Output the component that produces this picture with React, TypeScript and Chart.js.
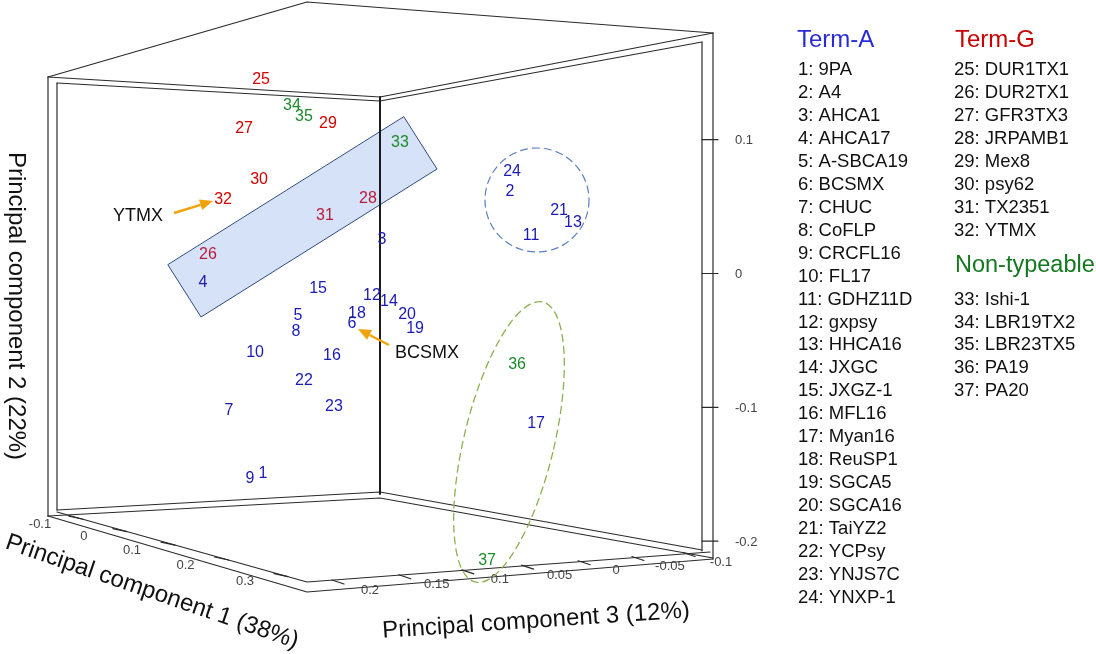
import React, { useEffect, useRef } from 'react';
import { Chart, registerables } from 'chart.js';

Chart.register(...registerables);

// ---------- data (projected PCA coordinates: x = horizontal projection, y = PC2) ----------
const termAIds = [1, 2, 3, 4, 5, 6, 7, 8, 9, 10, 11, 12, 13, 14, 15, 16, 17, 18, 19, 20, 21, 22, 23, 24];
const termAX = [-0.0874, 0.0972, 0.0015, -0.1323, -0.0613, -0.0209, -0.1129, -0.0628, -0.0972, -0.0934, 0.1129, -0.006, 0.1442, 0.0067, -0.0463, -0.0359, 0.1166, -0.0172, 0.0262, 0.0202, 0.1338, -0.0568, -0.0344, 0.0987];
const termAY = [-0.1499, 0.0609, 0.025, -0.0071, -0.0318, -0.0377, -0.1028, -0.0437, -0.1536, -0.0594, 0.028, -0.0168, 0.0377, -0.0213, -0.0116, -0.0617, -0.1125, -0.0303, -0.0415, -0.031, 0.0467, -0.0803, -0.0998, 0.0759];

const termGIds = [25, 26, 27, 28, 29, 30, 31, 32];
const termGX = [-0.0889, -0.1286, -0.1016, -0.009, -0.0389, -0.0904, -0.0411, -0.1173];
const termGY = [0.1446, 0.0138, 0.108, 0.0557, 0.1117, 0.0699, 0.043, 0.0549];

const nonTypeIds = [33, 34, 35, 36, 37];
const nonTypeX = [0.0149, -0.0658, -0.0568, 0.1024, 0.08];
const nonTypeY = [0.0975, 0.1252, 0.117, -0.0684, -0.2149];

const termANames = ['9PA', 'A4', 'AHCA1', 'AHCA17', 'A-SBCA19', 'BCSMX', 'CHUC', 'CoFLP', 'CRCFL16', 'FL17', 'GDHZ11D', 'gxpsy', 'HHCA16', 'JXGC', 'JXGZ-1', 'MFL16', 'Myan16', 'ReuSP1', 'SGCA5', 'SGCA16', 'TaiYZ2', 'YCPsy', 'YNJS7C', 'YNXP-1'];
const termGNames = ['DUR1TX1', 'DUR2TX1', 'GFR3TX3', 'JRPAMB1', 'Mex8', 'psy62', 'TX2351', 'YTMX'];
const nonTypeNames = ['Ishi-1', 'LBR19TX2', 'LBR23TX5', 'PA19', 'PA20'];

const pc1Ticks = [-0.1, 0, 0.1, 0.2, 0.3];
const pc1TickLabels = ['-0.1', '0', '0.1', '0.2', '0.3'];
const pc2Ticks = [0.1, 0, -0.1, -0.2];
const pc2TickLabels = ['0.1', '0', '-0.1', '-0.2'];
const pc3Ticks = [0.2, 0.15, 0.1, 0.05, 0, -0.05, -0.1];
const pc3TickLabels = ['0.2', '0.15', '0.1', '0.05', '0', '-0.05', '-0.1'];

const FONT = '"Liberation Sans", Arial, Helvetica, sans-serif';
const BLUE = '#1a1ab4';
const RED = '#d40000';
const GREEN = '#1c8c2a';

const HIGHLIGHT = [[168, 265], [201, 317], [437, 169], [404, 117]];

function polyline(ctx: CanvasRenderingContext2D, pts: number[][]) {
  ctx.beginPath();
  ctx.moveTo(pts[0][0], pts[0][1]);
  for (let i = 1; i < pts.length; i++) ctx.lineTo(pts[i][0], pts[i][1]);
  ctx.stroke();
}

function inside(pt: number[], poly: number[][]) {
  let c = false;
  for (let i = 0, j = poly.length - 1; i < poly.length; j = i++) {
    const [xi, yi] = poly[i];
    const [xj, yj] = poly[j];
    if ((yi > pt[1]) !== (yj > pt[1]) && pt[0] < ((xj - xi) * (pt[1] - yi)) / (yj - yi) + xi) c = !c;
  }
  return c;
}

function arrow(ctx: CanvasRenderingContext2D, x1: number, y1: number, x2: number, y2: number, color: string) {
  const a = Math.atan2(y2 - y1, x2 - x1);
  const hl = 13, hw = 5.5;
  const bx = x2 - hl * Math.cos(a), by = y2 - hl * Math.sin(a);
  ctx.strokeStyle = color;
  ctx.lineWidth = 2.4;
  ctx.setLineDash([]);
  ctx.beginPath();
  ctx.moveTo(x1, y1);
  ctx.lineTo(bx, by);
  ctx.stroke();
  ctx.fillStyle = color;
  ctx.beginPath();
  ctx.moveTo(x2, y2);
  ctx.lineTo(bx + hw * Math.sin(a), by - hw * Math.cos(a));
  ctx.lineTo(bx - hw * Math.sin(a), by + hw * Math.cos(a));
  ctx.closePath();
  ctx.fill();
}

function rotText(ctx: CanvasRenderingContext2D, text: string, x: number, y: number, deg: number) {
  ctx.save();
  ctx.translate(x, y);
  ctx.rotate((deg * Math.PI) / 180);
  ctx.textAlign = 'center';
  ctx.textBaseline = 'middle';
  ctx.fillText(text, 0, 0);
  ctx.restore();
}

const pc1Pos = (v: number) => {
  const u = (v + 0.1) / 0.4;
  const f = u / (1.227 - 0.227 * u);
  const x = 83 + 205 * f;
  return [x, 512 + 0.28 * (x - 57)];
};
const pc3Pos = (v: number) => {
  const u = (0.2 - v) / 0.3;
  const f = (1.174 * u) / (1 + 0.174 * u);
  const x = 332 + 351 * f;
  return [x, 582 - 0.0785 * (x - 307)];
};

const scenePlugin = {
  id: 'scene3d',
  beforeDatasetsDraw(chart: any) {
    const ctx: CanvasRenderingContext2D = chart.ctx;
    const ys = chart.scales.y;
    ctx.save();
    ctx.lineCap = 'round';
    ctx.lineJoin = 'round';

    // highlight band
    ctx.fillStyle = '#d6e2f7';
    ctx.strokeStyle = '#2c4a80';
    ctx.lineWidth = 1;
    ctx.beginPath();
    HIGHLIGHT.forEach((p, i) => (i ? ctx.lineTo(p[0], p[1]) : ctx.moveTo(p[0], p[1])));
    ctx.closePath();
    ctx.fill();
    ctx.stroke();

    // box frame
    ctx.strokeStyle = '#2a2a2a';
    ctx.lineWidth = 1.2;
    const segs = [
      [[48, 77], [307, 2], [713, 33]],
      [[48, 77], [48, 516]],
      [[713, 33], [713, 559]],
      [[48, 516], [307, 592], [713, 559]],
      [[48, 77], [380, 97], [713, 33]],
      [[57, 83], [380, 101], [702, 42]],
      [[57, 83], [57, 510]],
      [[702, 42], [702, 551]],
      [[57, 510], [380, 492], [702, 550]],
      [[48, 516], [380, 498], [713, 558]],
      [[57, 512], [307, 582], [710, 552]],
    ];
    segs.forEach((s) => polyline(ctx, s));
    ctx.lineWidth = 2;
    ctx.strokeStyle = '#1a1a1a';
    polyline(ctx, [[380, 97], [380, 494]]);

    // PC2 axis (right)
    ctx.lineWidth = 1.2;
    ctx.strokeStyle = '#2a2a2a';
    ctx.fillStyle = '#444';
    ctx.font = `13px ${FONT}`;
    ctx.textAlign = 'left';
    ctx.textBaseline = 'middle';
    pc2Ticks.forEach((v, i) => {
      const py = ys.getPixelForValue(v);
      polyline(ctx, [[702, py], [718, py]]);
      ctx.fillText(pc2TickLabels[i], 735, py + 1);
    });

    // PC1 axis
    ctx.textAlign = 'center';
    pc1Ticks.forEach((v, i) => {
      const [x, y] = pc1Pos(v);
      polyline(ctx, [[x, y], [x - 14, y - 3]]);
      ctx.fillText(pc1TickLabels[i], x - 43, y + 5);
    });

    // PC3 axis
    pc3Ticks.forEach((v, i) => {
      const [x, y] = pc3Pos(v);
      polyline(ctx, [[x, y], [x + 12, y + 4]]);
      ctx.fillText(pc3TickLabels[i], x + 38, y + 10);
    });

    // dashed circle
    ctx.setLineDash([7, 5]);
    ctx.strokeStyle = '#5b80c0';
    ctx.lineWidth = 1.2;
    ctx.beginPath();
    ctx.arc(537, 200, 52, 0, Math.PI * 2);
    ctx.stroke();

    // dashed ellipse
    ctx.strokeStyle = '#8db050';
    ctx.lineWidth = 1.3;
    ctx.beginPath();
    ctx.ellipse(509, 442, 45, 144, (13.6 * Math.PI) / 180, 0, Math.PI * 2);
    ctx.stroke();
    ctx.setLineDash([]);

    // axis titles
    ctx.fillStyle = '#111';
    ctx.font = `24px ${FONT}`;
    rotText(ctx, 'Principal component 2 (22%)', 16, 306, 90);
    rotText(ctx, 'Principal component 1 (38%)', 152, 592, 19);
    rotText(ctx, 'Principal component 3 (12%)', 536, 621, -3.8);

    // legend
    const rowH = 22.95;
    ctx.textAlign = 'left';
    ctx.textBaseline = 'middle';
    ctx.font = `24px ${FONT}`;
    ctx.fillStyle = '#2a2ad6';
    ctx.fillText('Term-A', 797, 40);
    ctx.fillStyle = '#c80000';
    ctx.fillText('Term-G', 955, 40);
    ctx.fillStyle = '#13781f';
    ctx.font = `23.5px ${FONT}`;
    ctx.fillText('Non-typeable', 955, 266);
    ctx.fillStyle = '#111';
    ctx.font = `18.5px ${FONT}`;
    termANames.forEach((n, i) => ctx.fillText(`${termAIds[i]}: ${n}`, 798, 70 + rowH * i));
    termGNames.forEach((n, i) => ctx.fillText(`${termGIds[i]}: ${n}`, 954, 70 + rowH * i));
    nonTypeNames.forEach((n, i) => ctx.fillText(`${nonTypeIds[i]}: ${n}`, 954, 70 + rowH * (10 + i)));

    ctx.restore();
  },
  afterDatasetsDraw(chart: any) {
    const ctx: CanvasRenderingContext2D = chart.ctx;
    ctx.save();
    ctx.font = `16px ${FONT}`;
    ctx.textAlign = 'center';
    ctx.textBaseline = 'middle';
    chart.data.datasets.forEach((ds: any, di: number) => {
      const meta = chart.getDatasetMeta(di);
      meta.data.forEach((el: any, i: number) => {
        const inBand = inside([el.x, el.y], HIGHLIGHT);
        ctx.fillStyle = inBand && ds.labelColor === RED ? '#b81c3c' : ds.labelColor;
        ctx.fillText(String(ds.data[i].id), el.x, el.y);
      });
    });

    // annotations
    ctx.fillStyle = '#111';
    ctx.font = `18px ${FONT}`;
    ctx.textAlign = 'center';
    ctx.fillText('YTMX', 138, 216);
    ctx.textAlign = 'left';
    ctx.fillText('BCSMX', 395, 353);
    arrow(ctx, 174, 213, 213, 201, '#f0a30a');
    arrow(ctx, 389, 345, 358, 329, '#f0a30a');
    ctx.restore();
  },
};

function build(ids: number[], xs: number[], ys: number[]) {
  return ids.map((id, i) => ({ x: xs[i], y: ys[i], id }));
}

export default function App() {
  const ref = useRef<HTMLCanvasElement | null>(null);
  useEffect(() => {
    if (!ref.current) return;
    const chart = new Chart(ref.current, {
      type: 'scatter',
      data: {
        datasets: [
          { label: 'Term-A', data: build(termAIds, termAX, termAY), labelColor: BLUE, pointRadius: 0, pointHoverRadius: 0 } as any,
          { label: 'Term-G', data: build(termGIds, termGX, termGY), labelColor: RED, pointRadius: 0, pointHoverRadius: 0 } as any,
          { label: 'Non-typeable', data: build(nonTypeIds, nonTypeX, nonTypeY), labelColor: GREEN, pointRadius: 0, pointHoverRadius: 0 } as any,
        ],
      },
      options: {
        responsive: false,
        animation: false,
        events: [],
        layout: { padding: 0 },
        scales: {
          x: { type: 'linear', display: false, bounds: 'data', min: -0.284, max: 0.5351 },
          y: { type: 'linear', display: false, bounds: 'data', min: -0.2844, max: 0.2044 },
        },
        plugins: { legend: { display: false }, tooltip: { enabled: false } },
      },
      plugins: [scenePlugin],
    });
    return () => chart.destroy();
  }, []);
  return (
    <div style={{ position: 'absolute', left: 0, top: 0, width: 1096, height: 654, background: '#fff' }}>
      <canvas ref={ref} width={1096} height={654} style={{ display: 'block' }} />
    </div>
  );
}
